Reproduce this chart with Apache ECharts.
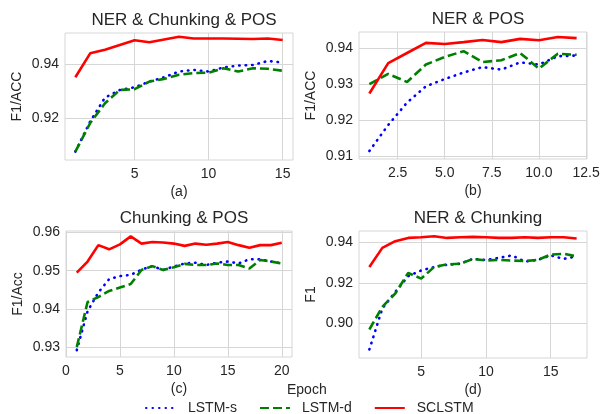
<!DOCTYPE html>
<html>
<head>
<meta charset="utf-8">
<title>Multi-task training curves</title>
<script src="https://cdn.jsdelivr.net/npm/echarts@6/dist/echarts.min.js"></script>
<style>
  html, body { margin: 0; padding: 0; background: #fff; }
</style>
</head>
<body>
<div id="main" style="width:607px;height:414px;"></div>
<script>
// epochs per panel
var epochsA = [1, 2, 3, 4, 5, 6, 7, 8, 9, 10, 11, 12, 13, 14, 15];
var epochsB = [1, 2, 3, 4, 5, 6, 7, 8, 9, 10, 11, 12];
var epochsC = [1, 2, 3, 4, 5, 6, 7, 8, 9, 10, 11, 12, 13, 14, 15, 16, 17, 18, 19, 20];
var epochsD = [1, 2, 3, 4, 5, 6, 7, 8, 9, 10, 11, 12, 13, 14, 15, 16, 17];

// (a) NER & Chunking & POS
var lstmSA = [0.9077, 0.9188, 0.9276, 0.9304, 0.9314, 0.9335, 0.9351, 0.9372, 0.9378, 0.9372, 0.9387, 0.9394, 0.9396, 0.9411, 0.9405];
var lstmDA = [0.9077, 0.9182, 0.9255, 0.9304, 0.9307, 0.9335, 0.9345, 0.9360, 0.9366, 0.9368, 0.9384, 0.9372, 0.9384, 0.9382, 0.9375];
var sclA   = [0.9351, 0.9439, 0.9452, 0.9470, 0.9487, 0.9480, 0.9490, 0.9500, 0.9494, 0.9494, 0.9494, 0.9493, 0.9492, 0.9494, 0.9488];

// (b) NER & POS
var lstmSB = [0.9115, 0.9187, 0.9249, 0.9294, 0.9314, 0.9332, 0.9347, 0.9340, 0.9360, 0.9354, 0.9377, 0.9379];
var lstmDB = [0.9300, 0.9328, 0.9306, 0.9354, 0.9375, 0.9391, 0.9361, 0.9366, 0.9386, 0.9343, 0.9384, 0.9381];
var sclB   = [0.9274, 0.9358, 0.9386, 0.9414, 0.9411, 0.9416, 0.9422, 0.9416, 0.9425, 0.9421, 0.9430, 0.9427];

// (c) Chunking & POS
var lstmSC = [0.9292, 0.9394, 0.9443, 0.9478, 0.9486, 0.9489, 0.9503, 0.9512, 0.9502, 0.9511, 0.9519, 0.9521, 0.9515, 0.9521, 0.9524, 0.9519, 0.9530, 0.9530, 0.9524, 0.9519];
var lstmDC = [0.9300, 0.9418, 0.9431, 0.9447, 0.9456, 0.9465, 0.9502, 0.9512, 0.9502, 0.9509, 0.9518, 0.9515, 0.9515, 0.9519, 0.9515, 0.9515, 0.9506, 0.9528, 0.9524, 0.9519];
var sclC   = [0.9495, 0.9524, 0.9567, 0.9556, 0.9569, 0.9590, 0.9571, 0.9575, 0.9574, 0.9571, 0.9565, 0.9571, 0.9568, 0.9571, 0.9575, 0.9567, 0.9560, 0.9567, 0.9567, 0.9573];

// (d) NER & Chunking
var lstmSD = [0.8873, 0.9074, 0.9156, 0.9233, 0.9261, 0.9278, 0.9289, 0.9294, 0.9318, 0.9313, 0.9323, 0.9335, 0.9305, 0.9313, 0.9335, 0.9318, 0.9330];
var lstmDD = [0.8971, 0.9082, 0.9148, 0.9249, 0.9221, 0.9278, 0.9291, 0.9294, 0.9318, 0.9310, 0.9313, 0.9310, 0.9307, 0.9313, 0.9339, 0.9343, 0.9330];
var sclD   = [0.9278, 0.9372, 0.9405, 0.9421, 0.9424, 0.9429, 0.9421, 0.9424, 0.9426, 0.9424, 0.9421, 0.9421, 0.9424, 0.9421, 0.9424, 0.9424, 0.9418];

// tick labels
var xTicksA = [5, 10, 15];
var xTicksB = [2.5, 5.0, 7.5, 10.0, 12.5];
var xTicksC = [0, 5, 10, 15, 20];
var xTicksD = [5, 10, 15];
var yTicksA = [0.92, 0.94];
var yTicksB = [0.91, 0.92, 0.93, 0.94];
var yTicksC = [0.93, 0.94, 0.95, 0.96];
var yTicksD = [0.90, 0.92, 0.94];

var FONT = 'Liberation Sans, Arial, sans-serif';
var TXT = '#262626';
var GRIDC = '#d6d6d6';

function pairs(xs, ys) {
  return xs.map(function (x, i) { return [x, ys[i]]; });
}

var panels = [
  { title: 'NER & Chunking & POS', sub: '(a)', yName: 'F1/ACC', box: [65, 33, 228, 127],
    x: epochsA, s: lstmSA, d: lstmDA, r: sclA, xr: [0.3, 15.7], yr: [0.9046, 0.9514],
    xt: xTicksA, yt: yTicksA, xdec: 0 },
  { title: 'NER & POS', sub: '(b)', yName: 'F1/ACC', box: [359, 32, 228, 127],
    x: epochsB, s: lstmSB, d: lstmDB, r: sclB, xr: [0.45, 12.55], yr: [0.9093, 0.9444],
    xt: xTicksB, yt: yTicksB, xdec: 1 },
  { title: 'Chunking & POS', sub: '(c)', yName: 'F1/Acc', box: [66, 231, 226, 126],
    x: epochsC, s: lstmSC, d: lstmDC, r: sclC, xr: [0, 20.95], yr: [0.9274, 0.9604],
    xt: xTicksC, yt: yTicksC, xdec: 0 },
  { title: 'NER & Chunking', sub: '(d)', yName: 'F1', box: [359, 231, 228, 127],
    x: epochsD, s: lstmSD, d: lstmDD, r: sclD, xr: [0.2, 17.8], yr: [0.8831, 0.9455],
    xt: xTicksD, yt: yTicksD, xdec: 0 }
];

var grids = [], xAxes = [], yAxes = [], series = [], titles = [];

panels.forEach(function (p, i) {
  grids.push({ left: p.box[0], top: p.box[1], width: p.box[2], height: p.box[3],
    show: true, borderColor: GRIDC, borderWidth: 1, backgroundColor: '#fff' });
  titles.push({ text: p.title, left: p.box[0] + p.box[2] / 2, top: p.box[1] - 26, textAlign: 'center',
    textStyle: { fontFamily: FONT, fontSize: 17, fontWeight: 'normal', color: TXT } });
  xAxes.push({
    type: 'value', gridIndex: i, min: p.xr[0], max: p.xr[1],
    name: p.sub, nameLocation: 'middle', nameGap: 25,
    nameTextStyle: { fontFamily: FONT, fontSize: 14, color: TXT },
    axisLine: { show: false },
    axisTick: { show: false, customValues: p.xt },
    axisLabel: { customValues: p.xt, fontFamily: FONT, fontSize: 14, color: TXT, margin: 7,
      formatter: function (v) { return v.toFixed(p.xdec); } },
    splitLine: { show: true, lineStyle: { color: GRIDC, width: 1 } }
  });
  yAxes.push({
    type: 'value', gridIndex: i, min: p.yr[0], max: p.yr[1],
    name: p.yName, nameLocation: 'middle', nameGap: 41, nameRotate: 90,
    nameTextStyle: { fontFamily: FONT, fontSize: 14, color: TXT },
    axisLine: { show: false },
    axisTick: { show: false, customValues: p.yt },
    axisLabel: { customValues: p.yt, fontFamily: FONT, fontSize: 14, color: TXT, margin: 6,
      formatter: function (v) { return v.toFixed(2); } },
    splitLine: { show: true, lineStyle: { color: GRIDC, width: 1 } }
  });
  series.push({
    name: 'LSTM-s', type: 'line', xAxisIndex: i, yAxisIndex: i, symbol: 'none',
    data: pairs(p.x, p.s), color: '#0000ff',
    lineStyle: { color: '#0000ff', width: 2.6, type: [0.5, 6], cap: 'round' }
  });
  series.push({
    name: 'LSTM-d', type: 'line', xAxisIndex: i, yAxisIndex: i, symbol: 'none',
    data: pairs(p.x, p.d), color: '#008000',
    lineStyle: { color: '#008000', width: 2.6, type: [9, 4] }
  });
  series.push({
    name: 'SCLSTM', type: 'line', xAxisIndex: i, yAxisIndex: i, symbol: 'none',
    data: pairs(p.x, p.r), color: '#ff0000',
    lineStyle: { color: '#ff0000', width: 2.6 }
  });
});

var myChart = echarts.init(document.getElementById('main'));
myChart.setOption({
  backgroundColor: '#fff',
  animation: false,
  title: titles,
  legend: {
    data: ['LSTM-s', 'LSTM-d', 'SCLSTM'],
    left: 140, top: 396, itemWidth: 30, itemHeight: 12, itemGap: 22,
    itemStyle: { opacity: 0 },
    textStyle: { fontFamily: FONT, fontSize: 14, color: TXT, padding: [0, 0, 0, 7] }
  },
  graphic: [{
    type: 'text', left: 287, top: 383,
    style: { text: 'Epoch', fontFamily: FONT, fontSize: 14, fill: TXT }
  }],
  grid: grids,
  xAxis: xAxes,
  yAxis: yAxes,
  series: series
});
</script>
</body>
</html>
